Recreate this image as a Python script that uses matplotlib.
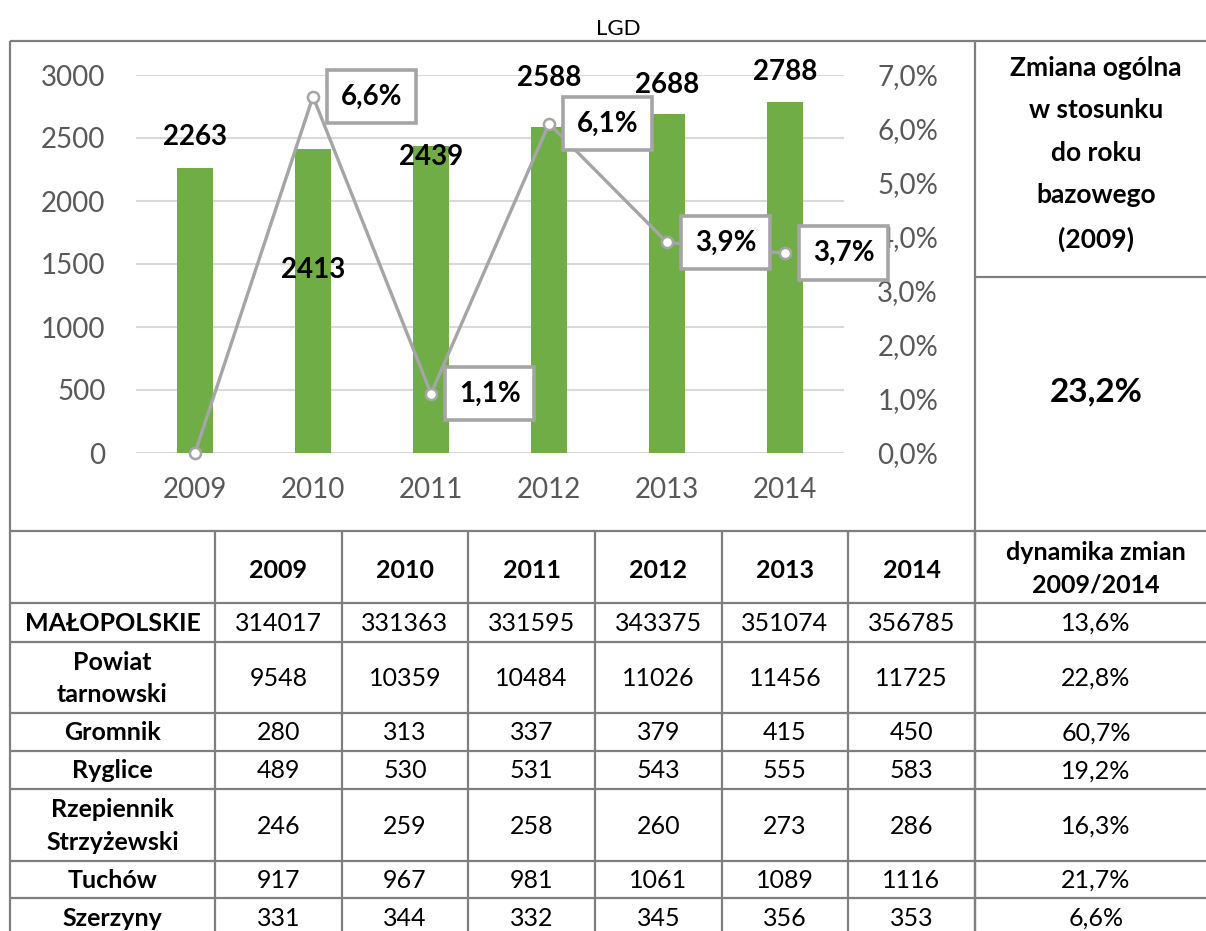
import matplotlib
matplotlib.use("Agg")
import matplotlib.pyplot as plt
from matplotlib.ticker import FuncFormatter, MultipleLocator

plt.rcParams['font.family'] = ['Lato', 'DejaVu Sans']

# chart data
years = ['2009', '2010', '2011', '2012', '2013', '2014']
lgd_totals = [2263, 2413, 2439, 2588, 2688, 2788]
yoy_change = [0.0, 6.6, 1.1, 6.1, 3.9, 3.7]
overall_change = '23,2%'

# table data
row_names = ['MAŁOPOLSKIE', 'Powiat\ntarnowski', 'Gromnik', 'Ryglice',
             'Rzepiennik\nStrzyżewski', 'Tuchów', 'Szerzyny']
row_values = [
    [314017, 331363, 331595, 343375, 351074, 356785],
    [9548, 10359, 10484, 11026, 11456, 11725],
    [280, 313, 337, 379, 415, 450],
    [489, 530, 531, 543, 555, 583],
    [246, 259, 258, 260, 273, 286],
    [917, 967, 981, 1061, 1089, 1116],
    [331, 344, 332, 345, 356, 353],
]
row_dynamics = ['13,6%', '22,8%', '60,7%', '19,2%', '16,3%', '21,7%', '6,6%']

# layout (pixels)
W, H = 1206, 931
GREEN = '#70ad47'
LINE_GRAY = '#a5a5a5'
BORDER = '#7f7f7f'
TICK = '#595959'
bar_label_dy = [31, -121, -11, 49, 29, 30]  # px relative to bar top

fig = plt.figure(figsize=(W / 100, H / 100), dpi=100)

# background canvas in pixel coordinates for frame and table
bg = fig.add_axes([0, 0, 1, 1])
bg.set_xlim(0, W)
bg.set_ylim(H, 0)
bg.axis('off')


def hline(y, x0, x1):
    bg.plot([x0, x1], [y, y], color=BORDER, lw=1.6, solid_capstyle='butt')


def vline(x, y0, y1):
    bg.plot([x, x], [y0, y1], color=BORDER, lw=1.6, solid_capstyle='butt')


bg.text(618, 29, 'LGD', ha='center', va='center', fontsize=16)

# frame around chart and side panel
hline(41, 10, W)
vline(10, 41, H)
vline(975, 41, H)
hline(277, 975, W)

bg.text(1096, 154, 'Zmiana ogólna\nw stosunku\ndo roku\nbazowego\n(2009)',
        ha='center', va='center', fontsize=19, fontweight='bold', linespacing=1.93)
bg.text(1096, 392, overall_change, ha='center', va='center',
        fontsize=24, fontweight='bold')

# table
col_edges = [10, 215, 342, 468, 595, 722, 848, 975, 1218]
row_edges = [531, 603, 642, 713, 751, 789, 861, 898, 936]
for y in row_edges[:-1]:
    hline(y, 10, W)
for x in col_edges[1:-1]:
    vline(x, row_edges[0], H)

col_centers = [(a + b) / 2 for a, b in zip(col_edges[:-1], col_edges[1:])]
col_centers[-1] = 1096

head_y = (row_edges[0] + row_edges[1]) / 2 + 3
for cx, yr in zip(col_centers[1:-1], years):
    bg.text(cx, head_y, yr, ha='center', va='center', fontsize=18, fontweight='bold')
bg.text(col_centers[-1], head_y - 1, 'dynamika zmian\n2009/2014', ha='center',
        va='center', fontsize=18, fontweight='bold', linespacing=1.5)

for i, name in enumerate(row_names):
    cy = (row_edges[i + 1] + row_edges[i + 2]) / 2 + 1
    bg.text(col_centers[0], cy, name, ha='center', va='center', fontsize=18,
            fontweight='bold', linespacing=1.5)
    for cx, v in zip(col_centers[1:-1], row_values[i]):
        bg.text(cx, cy, str(v), ha='center', va='center', fontsize=18)
    bg.text(col_centers[-1], cy, row_dynamics[i], ha='center', va='center', fontsize=18)

# chart
ax = fig.add_axes([136 / W, 1 - 453 / H, (844 - 136) / W, (453 - 75) / H])
x = range(len(years))
ax.bar(x, lgd_totals, width=0.31, color=GREEN, zorder=2)
ax.set_xlim(-0.5, len(years) - 0.5)
ax.set_ylim(0, 3000)
ax.yaxis.set_major_locator(MultipleLocator(500))
ax.grid(axis='y', color='#d9d9d9', lw=1.5, zorder=0)
ax.set_axisbelow(True)
ax.set_xticks(list(x))
ax.set_xticklabels(years)
for s in ax.spines.values():
    s.set_visible(False)
ax.tick_params(length=0, labelsize=20, colors=TICK, pad=22)
ax.tick_params(axis='x', pad=17)
ax.set_facecolor('none')

for xi, v, dy in zip(x, lgd_totals, bar_label_dy):
    ax.annotate(str(v), (xi, v), xytext=(0, dy * 0.72), textcoords='offset points',
                ha='center', va='center', fontsize=20, fontweight='bold', zorder=5)

ax2 = ax.twinx()
ax2.set_ylim(0, 7)
ax2.yaxis.set_major_locator(MultipleLocator(1))
ax2.yaxis.set_major_formatter(FuncFormatter(lambda v, p: f'{v:.1f}%'.replace('.', ',')))
for s in ax2.spines.values():
    s.set_visible(False)
ax2.tick_params(length=0, labelsize=20, colors=TICK, pad=24)
ax2.plot(x, yoy_change, color=LINE_GRAY, lw=2.4, marker='o', markersize=8,
         markerfacecolor='white', markeredgecolor=LINE_GRAY, markeredgewidth=1.8,
         clip_on=False, zorder=4)

for xi, v in zip(x, yoy_change):
    if v == 0:
        continue
    ax2.annotate(f'{v:.1f}%'.replace('.', ','), (xi, v), xytext=(20, 0),
                 textcoords='offset points', ha='left', va='center', fontsize=20,
                 fontweight='bold', zorder=6,
                 bbox=dict(boxstyle='square,pad=0.5', fc='white', ec=LINE_GRAY, lw=2.6))

fig.savefig('out.png', dpi=100)
